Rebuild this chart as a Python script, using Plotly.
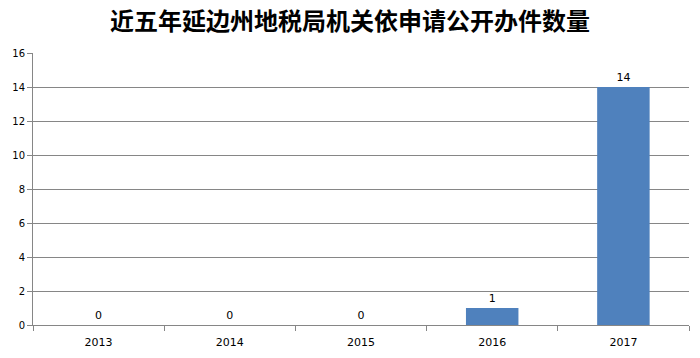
import plotly.graph_objects as go

years = ["2013", "2014", "2015", "2016", "2017"]
counts = [0, 0, 0, 1, 14]
y_ticks = [0, 2, 4, 6, 8, 10, 12, 14, 16]
title_text = "近五年延边州地税局机关依申请公开办件数量"

fig = go.Figure()
fig.add_trace(go.Bar(
    x=years, y=counts,
    marker=dict(color="#4F81BD", line=dict(width=0)),
    text=[str(v) for v in counts],
    textposition="outside",
    textfont=dict(family="DejaVu Sans", size=11, color="#000000"),
    cliponaxis=False,
))

fig.update_layout(
    width=700, height=358,
    margin=dict(l=33, r=11, t=53, b=33, autoexpand=False),
    paper_bgcolor="white", plot_bgcolor="white",
    bargap=0.6,
    showlegend=False,
    title=dict(text=title_text, x=0.5, xanchor="center", y=0.94, yanchor="middle",
               font=dict(family="Noto Sans CJK SC", size=24, color="#000000", weight="bold")),
    font=dict(family="DejaVu Sans", size=11, color="#000000"),
)
fig.update_xaxes(
    type="category", automargin=False,
    showline=True, linecolor="#868686", linewidth=1,
    ticks="outside", tickson="boundaries", ticklen=5, tickcolor="#868686",
    ticklabelstandoff=7,
    showgrid=False,
    tickfont=dict(family="DejaVu Sans", size=11, color="#000000"),
)
fig.update_yaxes(
    range=[0, 16], tickvals=y_ticks, automargin=False,
    showline=True, linecolor="#868686", linewidth=1,
    ticks="outside", ticklen=5, tickcolor="#868686",
    showgrid=True, gridcolor="#868686", gridwidth=1,
    zeroline=False,
    tickfont=dict(family="DejaVu Sans", size=10, color="#000000"),
)

fig.write_html("out.html", config={"displayModeBar": False},
               post_script="document.body.style.margin='0';")
